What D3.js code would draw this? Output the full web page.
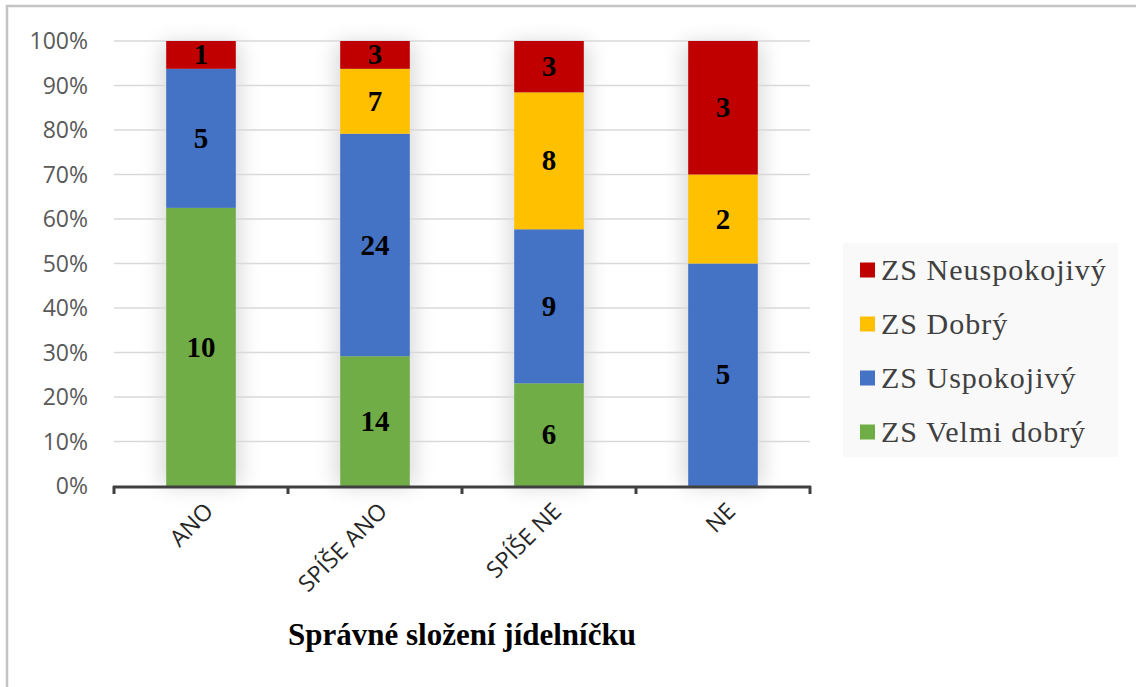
<!DOCTYPE html>
<html>
<head>
<meta charset="utf-8">
<script src="https://cdn.jsdelivr.net/npm/d3@7"></script>
<style>
  body { margin: 0; background: #fff; }
  svg { display: block; }
</style>
</head>
<body>
<svg id="chart" width="1136" height="687"></svg>
<script>
// data (counts per segment)
const categories = ['ANO', 'SPÍŠE ANO', 'SPÍŠE NE', 'NE'];
const seriesNames = ['ZS Velmi dobrý', 'ZS Uspokojivý', 'ZS Dobrý', 'ZS Neuspokojivý'];
const seriesColors = ['#70ad47', '#4472c4', '#ffc000', '#c00000'];
const velmiDobry   = [10, 14, 6, 0];
const uspokojivy   = [5, 24, 9, 5];
const dobry        = [0, 7, 8, 2];
const neuspokojivy = [1, 3, 3, 3];
const yTicks = [0, 0.1, 0.2, 0.3, 0.4, 0.5, 0.6, 0.7, 0.8, 0.9, 1];
const xTitle = 'Správné složení jídelníčku';

const values = [velmiDobry, uspokojivy, dobry, neuspokojivy];
const rows = categories.map((c, i) => {
  const r = { cat: c };
  seriesNames.forEach((s, j) => r[s] = values[j][i]);
  return r;
});

const svg = d3.select('#chart');
const plot = { left: 114, right: 810, top: 41, bottom: 486 };
const serif = 'Liberation Serif, Times New Roman, serif';
const sans  = 'Open Sans, sans-serif';

// outer frame
svg.append('rect')
    .attr('x', 7).attr('y', 6)
    .attr('width', 1150).attr('height', 700)
    .attr('fill', 'none')
    .attr('stroke', '#c4c4c4')
    .attr('stroke-width', 2.5);

const x = d3.scaleBand()
    .domain(categories)
    .range([plot.left, plot.right])
    .paddingInner(0.6)
    .paddingOuter(0.3);

const y = d3.scaleLinear()
    .domain([0, 1])
    .range([plot.bottom, plot.top]);

const stack = d3.stack()
    .keys(seriesNames)
    .offset(d3.stackOffsetExpand);
const layers = stack(rows);

const defs = svg.append('defs');
defs.append('filter')
    .attr('id', 'soft')
    .attr('x', '-100%').attr('width', '300%')
    .attr('y', '-20%').attr('height', '140%')
  .append('feGaussianBlur')
    .attr('stdDeviation', 11);

// bar shadows
svg.append('g')
  .selectAll('rect')
  .data(categories)
  .join('rect')
    .attr('x', d => x(d) - 4)
    .attr('y', y(1) + 2)
    .attr('width', x.bandwidth() + 8)
    .attr('height', y(0) - y(1) - 2)
    .attr('fill', '#000')
    .attr('opacity', 0.16)
    .attr('filter', 'url(#soft)');

// gridlines
svg.append('g')
  .selectAll('line')
  .data(yTicks.slice(1))
  .join('line')
    .attr('x1', plot.left).attr('x2', plot.right)
    .attr('y1', d => y(d)).attr('y2', d => y(d))
    .attr('stroke', '#d9d9d9')
    .attr('stroke-width', 1.5);

// y tick labels
svg.append('g')
  .selectAll('text')
  .data(yTicks)
  .join('text')
    .attr('x', 88)
    .attr('y', d => y(d))
    .attr('dy', '0.36em')
    .attr('text-anchor', 'end')
    .attr('font-family', sans)
    .attr('font-size', 23)
    .attr('fill', '#595959')
    .text(d3.format('.0%'));

// bars
const layerG = svg.append('g')
  .selectAll('g')
  .data(layers)
  .join('g')
    .attr('fill', (d, i) => seriesColors[i]);

layerG.selectAll('rect')
  .data(d => d.filter(p => p[1] > p[0]))
  .join('rect')
    .attr('x', d => x(d.data.cat))
    .attr('y', d => y(d[1]))
    .attr('width', x.bandwidth())
    .attr('height', d => y(d[0]) - y(d[1]));

// data labels
layers.forEach(layer => {
  svg.append('g')
    .selectAll('text')
    .data(layer.filter(p => p[1] > p[0]))
    .join('text')
      .attr('x', d => x(d.data.cat) + x.bandwidth() / 2)
      .attr('y', d => (y(d[0]) + y(d[1])) / 2)
      .attr('dy', '0.33em')
      .attr('text-anchor', 'middle')
      .attr('font-family', serif)
      .attr('font-weight', 'bold')
      .attr('font-size', 29)
      .attr('fill', '#000')
      .text(d => d.data[layer.key]);
});

// x axis
const axisG = svg.append('g');
axisG.append('line')
    .attr('x1', plot.left - 1).attr('x2', plot.right + 1)
    .attr('y1', plot.bottom + 1).attr('y2', plot.bottom + 1)
    .attr('stroke', '#404040')
    .attr('stroke-width', 3);
const boundaries = categories.map(c => x(c) - x.step() * x.paddingInner() / 2).concat([plot.right]);
boundaries[0] = plot.left;
axisG.selectAll('.tick')
  .data(boundaries)
  .join('line')
    .attr('class', 'tick')
    .attr('x1', d => d).attr('x2', d => d)
    .attr('y1', plot.bottom).attr('y2', plot.bottom + 8)
    .attr('stroke', '#404040')
    .attr('stroke-width', 3);

axisG.selectAll('text')
  .data(categories)
  .join('text')
    .attr('transform', d => `translate(${x(d) + x.bandwidth() / 2 + 8},${plot.bottom + 21}) rotate(-45)`)
    .attr('text-anchor', 'end')
    .attr('dy', '0.35em')
    .attr('font-family', sans)
    .attr('font-size', 23)
    .attr('fill', '#262626')
    .text(d => d);

svg.append('text')
    .attr('x', 462)
    .attr('y', 645)
    .attr('text-anchor', 'middle')
    .attr('font-family', serif)
    .attr('font-weight', 'bold')
    .attr('font-size', 31)
    .attr('fill', '#000')
    .text(xTitle);

// legend (reverse order like the reference)
const legend = svg.append('g');
legend.append('rect')
    .attr('x', 843).attr('y', 243)
    .attr('width', 275).attr('height', 214)
    .attr('fill', '#f9f9f9');
const legendItems = seriesNames.map((s, i) => ({ name: s, color: seriesColors[i] })).reverse();
const item = legend.selectAll('g.item')
  .data(legendItems)
  .join('g')
    .attr('class', 'item')
    .attr('transform', (d, i) => `translate(860,${270 + i * 54})`);
item.append('rect')
    .attr('x', 0).attr('y', -7.5)
    .attr('width', 15).attr('height', 15)
    .attr('fill', d => d.color);
item.append('text')
    .attr('x', 21)
    .attr('dy', '0.33em')
    .attr('font-family', serif)
    .attr('font-size', 30)
    .attr('letter-spacing', 1)
    .attr('fill', '#404040')
    .text(d => d.name);
</script>
</body>
</html>
